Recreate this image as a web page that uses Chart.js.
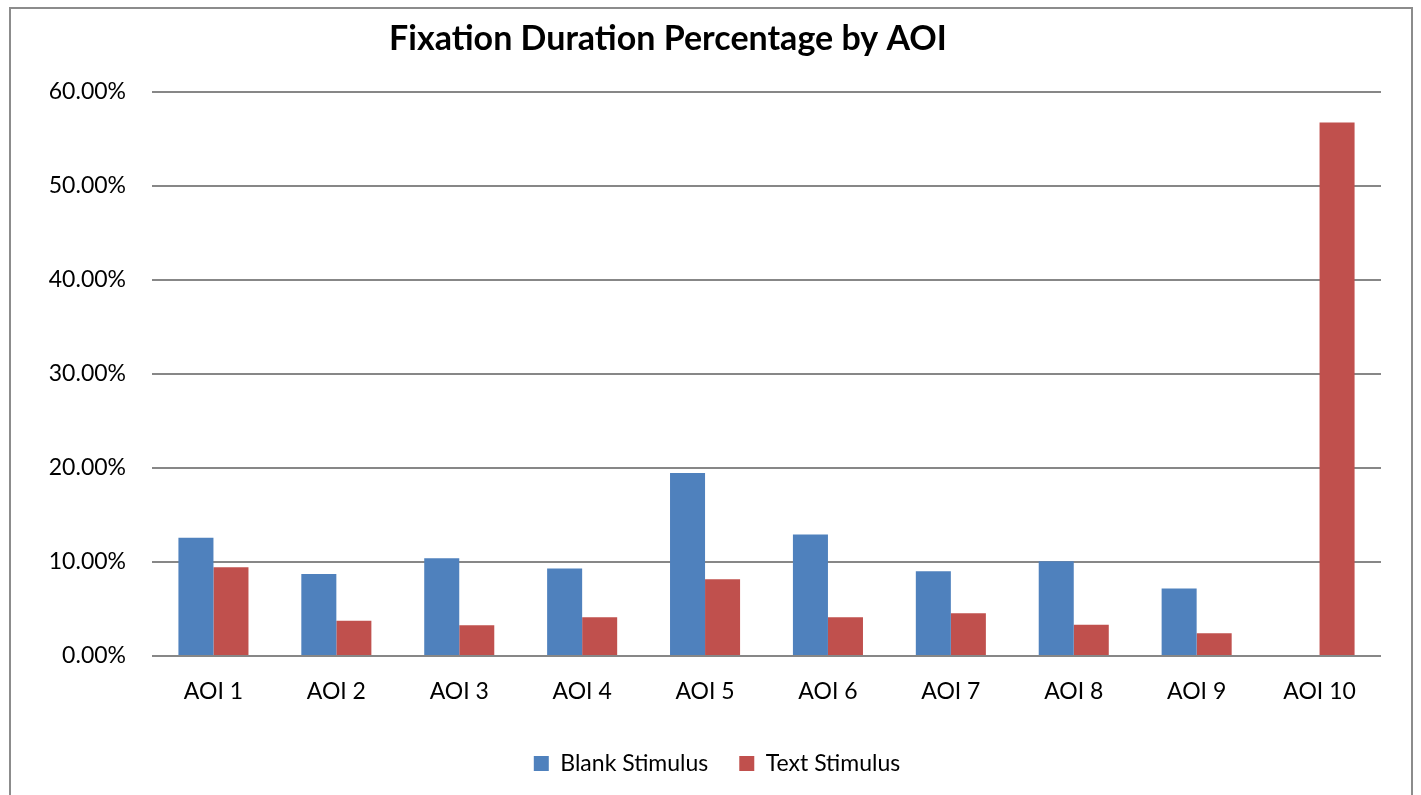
<!DOCTYPE html>
<html>
<head>
<meta charset="utf-8">
<title>Fixation Duration Percentage by AOI</title>
<script src="https://cdn.jsdelivr.net/npm/chart.js@4/dist/chart.umd.min.js"></script>
<style>
    html, body { margin: 0; padding: 0; background: #ffffff; overflow: hidden; }
    #wrap { position: relative; width: 1421px; height: 795px; }
    #frame {
        position: absolute; left: 9px; top: 7px;
        width: 1404px; height: 820px;
        border: 2px solid #8c8c8c;
        box-sizing: border-box;
    }
    #fixationChart { position: absolute; left: 0; top: 0; }
</style>
</head>
<body>
<div id="wrap">
    <div id="frame"></div>
    <canvas id="fixationChart" width="1421" height="795"></canvas>
</div>
<script>
// Chart data (fractions, shown as percent)
const aoiLabels = ['AOI 1', 'AOI 2', 'AOI 3', 'AOI 4', 'AOI 5', 'AOI 6', 'AOI 7', 'AOI 8', 'AOI 9', 'AOI 10'];
const blankStimulus = [0.1257, 0.0873, 0.1041, 0.0931, 0.1948, 0.1293, 0.0902, 0.1009, 0.0717, 0];
const textStimulus = [0.0944, 0.0376, 0.0326, 0.0411, 0.0816, 0.0411, 0.0454, 0.0333, 0.0243, 0.5675];
const yTicks = [0, 0.1, 0.2, 0.3, 0.4, 0.5, 0.6];

const chartTitle = 'Fixation Duration Percentage by AOI';
const FONT = 'Lato, "Liberation Sans", sans-serif';
const GRID = '#878787';

/**
 * Draws the title offset left like the original (not centred on the canvas)
 */
const titlePlugin = {
    id: 'offsetTitle',
    afterDraw(chart) {
        const ctx = chart.ctx;
        ctx.save();
        ctx.font = 'bold 34px ' + FONT;
        ctx.fillStyle = '#000000';
        ctx.textAlign = 'center';
        ctx.textBaseline = 'middle';
        ctx.fillText(chartTitle, 668, 39);
        ctx.restore();
    }
};

const ctx = document.getElementById('fixationChart');

new Chart(ctx, {
    type: 'bar',
    data: {
        labels: aoiLabels,
        datasets: [{
            label: 'Blank Stimulus',
            data: blankStimulus,
            backgroundColor: '#4f81bd',
            borderWidth: 0
        }, {
            label: 'Text Stimulus',
            data: textStimulus,
            backgroundColor: '#c0504d',
            borderWidth: 0
        }]
    },
    options: {
        responsive: false,
        animation: false,
        layout: {
            padding: { top: 92, left: 20, right: 7, bottom: 10 }
        },
        datasets: {
            bar: { barPercentage: 1, categoryPercentage: 0.57 }
        },
        scales: {
            x: {
                grid: { display: false, drawTicks: false },
                border: { display: false },
                ticks: {
                    color: '#000000',
                    font: { family: FONT, size: 23 },
                    padding: 22,
                    maxRotation: 0
                },
                afterFit: scale => { scale.height = 65; }
            },
            y: {
                min: 0,
                max: 0.6,
                afterBuildTicks: scale => {
                    scale.ticks = yTicks.map(v => ({ value: v }));
                },
                grid: { color: GRID, lineWidth: 2, drawTicks: false },
                border: { display: false },
                ticks: {
                    color: '#000000',
                    font: { family: FONT, size: 23 },
                    padding: 26,
                    callback: v => (v * 100).toFixed(2) + '%'
                },
                afterFit: scale => { scale.width = 132; }
            },
            // empty right axis, only keeps the plot's right edge in place
            spacer: {
                position: 'right',
                grid: { display: false, drawTicks: false },
                border: { display: false },
                ticks: { display: false },
                afterFit: scale => { scale.width = 33; }
            }
        },
        plugins: {
            title: { display: false },
            tooltip: { enabled: false },
            legend: {
                position: 'bottom',
                labels: {
                    color: '#000000',
                    font: { family: FONT, size: 23 },
                    boxWidth: 15,
                    boxHeight: 15,
                    padding: 31
                }
            }
        }
    },
    plugins: [titlePlugin]
});
</script>
</body>
</html>
